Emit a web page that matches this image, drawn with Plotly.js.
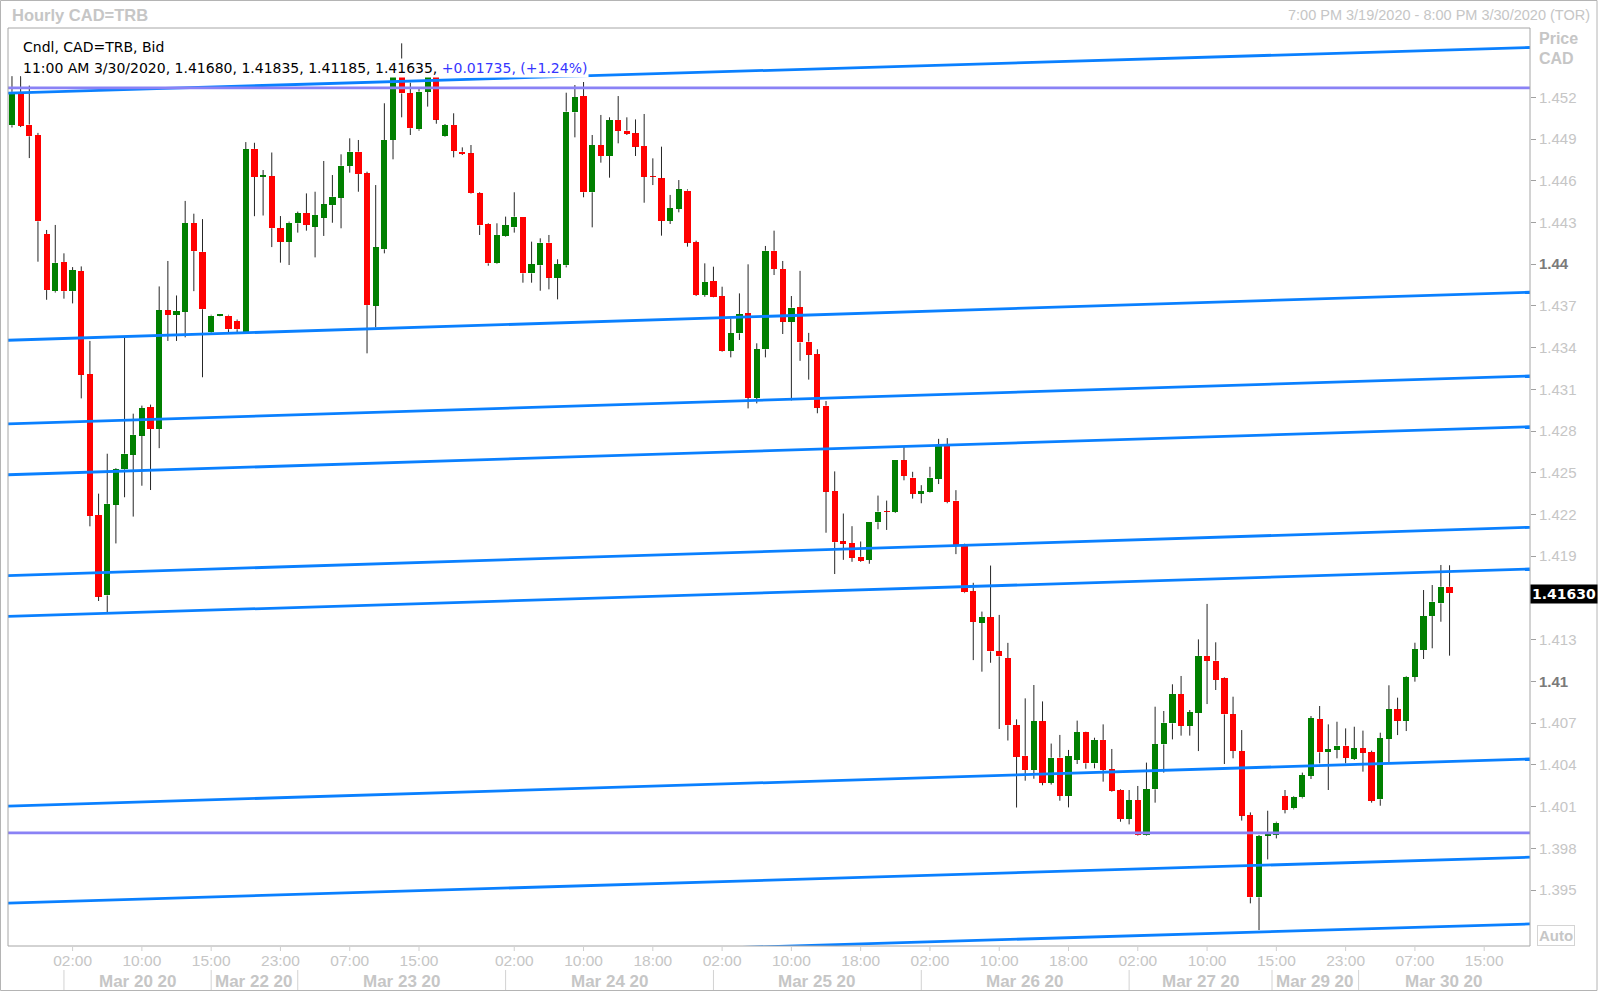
<!DOCTYPE html>
<html><head><meta charset="utf-8">
<script src="https://cdn.plot.ly/plotly-3.0.1.min.js"></script>
<style>html,body{margin:0;padding:0;background:#fff;overflow:hidden}#chart{width:1600px;height:994px}</style>
</head><body><div id="chart"></div>
<script>
// Hourly CAD=TRB candles, 7:00 PM 3/19/2020 .. 11:00 AM 3/30/2020 (bar index 0..166)
const OPEN=[1.44999,1.45234,1.45004,1.44928,1.44217,1.43806,1.44016,1.43806,1.43950,1.43210,
1.42196,1.41618,1.42271,1.42525,1.42630,1.42768,1.42970,1.42815,1.43668,1.43636,
1.43657,1.44295,1.44089,1.43511,1.43631,1.43631,1.43592,1.43513,1.44829,1.44630,
1.44633,1.44258,1.44162,1.44294,1.44366,1.44270,1.44335,1.44425,1.44478,1.44706,
1.44809,1.44653,1.43702,1.44107,1.44894,1.45400,1.45228,1.44970,1.45241,1.45380,
1.44922,1.45001,1.44809,1.44797,1.44509,1.44287,1.44006,1.44205,1.44265,1.44342,
1.43934,1.43992,1.44155,1.43903,1.43992,1.45092,1.45209,1.44517,1.44857,1.44778,
1.45037,1.44960,1.44941,1.44850,1.44629,1.44617,1.44313,1.44397,1.44529,1.44159,
1.43778,1.43879,1.43771,1.43376,1.43503,1.43647,1.43040,1.43388,1.44097,1.43965,
1.43587,1.43690,1.43443,1.43354,1.42983,1.42369,1.42006,1.41995,1.41896,1.41874,
1.42144,1.42221,1.42218,1.42590,1.42466,1.42350,1.42364,1.42455,1.42694,1.42300,
1.41984,1.41648,1.41420,1.41461,1.41216,1.41167,1.40685,1.40465,1.40363,1.40713,
1.40272,1.40452,1.40178,1.40435,1.40634,1.40411,1.40579,1.40368,1.40219,1.40010,
1.40147,1.39895,1.40224,1.40547,1.40698,1.40909,1.40682,1.40775,1.41183,1.41149,
1.41022,1.40763,1.40499,1.40039,1.39447,1.39891,1.39895,1.40176,1.40087,1.40166,
1.40320,1.40730,1.40492,1.40507,1.40538,1.40444,1.40519,1.40492,1.40152,1.40588,
1.40799,1.40717,1.41034,1.41226,1.41470,1.41561,1.41680];
const HIGH=[1.45352,1.45352,1.45284,1.44944,1.44246,1.44282,1.44078,1.43979,1.43984,1.43448,
1.42350,1.42637,1.42533,1.43474,1.42925,1.42983,1.42990,1.43840,1.44023,1.43775,
1.44455,1.44363,1.44324,1.43636,1.43636,1.43636,1.43602,1.44878,1.44873,1.44677,
1.44803,1.44346,1.44306,1.44378,1.44509,1.44521,1.44742,1.44641,1.44790,1.44905,
1.44893,1.44665,1.44569,1.45157,1.45420,1.45588,1.45305,1.45264,1.45420,1.45400,
1.45008,1.45085,1.44840,1.44857,1.44517,1.44294,1.44294,1.44342,1.44517,1.44342,
1.44162,1.44186,1.44210,1.44035,1.45233,1.45288,1.45310,1.44929,1.45073,1.45056,
1.45209,1.45056,1.45041,1.45080,1.44761,1.44845,1.44498,1.44605,1.44538,1.44169,
1.44006,1.43982,1.43838,1.43611,1.43790,1.43999,1.43431,1.44131,1.44241,1.44023,
1.43771,1.43952,1.43506,1.43388,1.43016,1.42510,1.42207,1.42116,1.42006,1.42149,
1.42336,1.42300,1.42590,1.42686,1.42507,1.42411,1.42543,1.42744,1.42749,1.42375,
1.41990,1.41709,1.41502,1.41833,1.41478,1.41277,1.40727,1.40878,1.40974,1.40856,
1.40553,1.40615,1.40507,1.40718,1.40638,1.40595,1.40691,1.40514,1.40224,1.40219,
1.40248,1.40416,1.40818,1.40787,1.40979,1.41039,1.40794,1.41302,1.41557,1.41281,
1.41029,1.40890,1.40650,1.40058,1.39895,1.40070,1.39991,1.40219,1.40176,1.40344,
1.40751,1.40823,1.40691,1.40710,1.40662,1.40674,1.40646,1.40502,1.40631,1.40972,
1.40883,1.41039,1.41278,1.41657,1.41693,1.41837,1.41835];
const LOW=[1.44983,1.44986,1.44763,1.44018,1.43744,1.43796,1.43752,1.43718,1.43035,1.42115,
1.41578,1.41487,1.41992,1.42324,1.42185,1.42407,1.42376,1.42677,1.43448,1.43448,
1.43474,1.43806,1.43187,1.43506,1.43626,1.43506,1.43506,1.43506,1.44345,1.44350,
1.44123,1.44011,1.43994,1.44227,1.44241,1.44049,1.44203,1.44298,1.44258,1.44658,
1.44521,1.43359,1.43546,1.44078,1.44754,1.45056,1.44929,1.44960,1.45133,1.45010,
1.44917,1.44768,1.44785,1.44505,1.44210,1.43989,1.44001,1.44198,1.44227,1.43867,
1.43867,1.43809,1.43819,1.43747,1.43977,1.44912,1.44481,1.44265,1.44730,1.44622,
1.44869,1.44929,1.44778,1.44442,1.44569,1.44205,1.44289,1.44373,1.44126,1.43771,
1.43766,1.43762,1.43371,1.43330,1.43455,1.42963,1.42999,1.43330,1.43922,1.43498,
1.43020,1.43305,1.43170,1.42928,1.42069,1.41772,1.41874,1.41860,1.41860,1.41846,
1.42094,1.42089,1.42212,1.42446,1.42314,1.42281,1.42358,1.42419,1.42281,1.41915,
1.41635,1.41153,1.41070,1.41134,1.40658,1.40575,1.40093,1.40286,1.40300,1.40253,
1.40258,1.40142,1.40094,1.40406,1.40372,1.40375,1.40279,1.40207,1.39991,1.39972,
1.39891,1.39891,1.40128,1.40344,1.40583,1.40610,1.40610,1.40499,1.40837,1.40938,
1.40406,1.40447,1.39999,1.39404,1.39212,1.39720,1.39871,1.40051,1.40080,1.40159,
1.40298,1.40411,1.40219,1.40447,1.40411,1.40435,1.40351,1.40128,1.40106,1.40415,
1.40614,1.40643,1.40998,1.41161,1.41238,1.41429,1.41185];
const CLOSE=[1.45239,1.44996,1.44920,1.44308,1.43814,1.44010,1.43806,1.43958,1.43205,1.42190,
1.41610,1.42277,1.42525,1.42637,1.42773,1.42964,1.42815,1.43668,1.43636,1.43663,
1.44295,1.44094,1.43676,1.43631,1.43631,1.43532,1.43532,1.44826,1.44627,1.44635,
1.44259,1.44162,1.44298,1.44366,1.44282,1.44354,1.44430,1.44485,1.44708,1.44809,
1.44648,1.43706,1.44121,1.44893,1.45400,1.45228,1.44977,1.45241,1.45380,1.45040,
1.45001,1.44814,1.44792,1.44509,1.44279,1.44006,1.44210,1.44279,1.44342,1.43934,
1.43999,1.44155,1.43903,1.44001,1.45097,1.45200,1.44517,1.44857,1.44778,1.45037,
1.44958,1.44936,1.44845,1.44629,1.44627,1.44313,1.44402,1.44538,1.44155,1.43778,
1.43872,1.43766,1.43376,1.43503,1.43639,1.43040,1.43388,1.44097,1.43965,1.43587,
1.43687,1.43437,1.43349,1.42969,1.42364,1.42001,1.41990,1.41890,1.41868,1.42149,
1.42221,1.42218,1.42590,1.42479,1.42350,1.42369,1.42466,1.42700,1.42289,1.41984,
1.41640,1.41428,1.41464,1.41216,1.41180,1.40685,1.40457,1.40363,1.40713,1.40272,
1.40451,1.40178,1.40464,1.40634,1.40411,1.40579,1.40363,1.40214,1.40010,1.40147,
1.39895,1.40224,1.40547,1.40703,1.40909,1.40682,1.40777,1.41183,1.41147,1.41010,
1.40763,1.40502,1.40035,1.39447,1.39888,1.39895,1.39984,1.40075,1.40171,1.40327,
1.40735,1.40490,1.40511,1.40538,1.40451,1.40519,1.40487,1.40142,1.40593,1.40799,
1.40717,1.41034,1.41230,1.41470,1.41573,1.41681,1.41635];

// time axis (bar index positions) and labels
const tickIndex=[7,15,23,31,39,47,58,66,74,82,90,98,106,114,122,130,138,146,154,162,170];
const tickLabels=["02:00","10:00","15:00","23:00","07:00","15:00","02:00","10:00","18:00","02:00","10:00","18:00","02:00","10:00","18:00","02:00","10:00","15:00","23:00","07:00","15:00"];
const dayLabels=["Mar 20 20","Mar 22 20","Mar 23 20","Mar 24 20","Mar 25 20","Mar 26 20","Mar 27 20","Mar 29 20","Mar 30 20"];
const dayBoundaries=[6,23,33,57,81,105,129,145.5,155.5];
const X_RANGE=[-0.46,175.29];

// price axis
const priceTicks=[1.452,1.449,1.446,1.443,1.44,1.437,1.434,1.431,1.428,1.425,1.422,1.419,1.416,1.413,1.41,1.407,1.404,1.401,1.398,1.395];
const boldTicks=[1.44,1.41];
const Y_RANGE=[1.390973,1.456983];

// channel trend lines: price at left edge and right edge of the plot
const trendStart=[1.45230,1.43453,1.42852,1.42486,1.41761,1.41467,1.40103,1.39406,1.38930];
const trendEnd  =[1.45558,1.43798,1.43196,1.42831,1.42108,1.41808,1.40442,1.39736,1.39256];
// horizontal levels
const levelLines=[1.45268,1.39911];

const lastPrice=1.41630;
const legendLine1="Cndl, CAD=TRB, Bid";
const legendTime="11:00 AM 3/30/2020";
const legendChange="+0.01735, (+1.24%)";

const idx=OPEN.map((_,i)=>i);
const UP='#008000', DOWN='#ff0000';

// wicks (upper and lower segments)
const wx=[], wy=[];
idx.forEach(i=>{
  const top=Math.max(OPEN[i],CLOSE[i]), bot=Math.min(OPEN[i],CLOSE[i]);
  if(HIGH[i]>top){wx.push(i,i,null);wy.push(top,HIGH[i],null);}
  if(LOW[i]<bot){wx.push(i,i,null);wy.push(LOW[i],bot,null);}
});
const traces=[];
traces.push({type:'scatter',mode:'lines',x:wx,y:wy,line:{color:'#262626',width:1},hoverinfo:'skip'});
traces.push({type:'bar',x:idx,
  base:idx.map(i=>Math.min(OPEN[i],CLOSE[i])),
  y:idx.map(i=>Math.max(Math.abs(CLOSE[i]-OPEN[i]),0.00009)),
  width:0.72,
  marker:{color:idx.map(i=>CLOSE[i]>=OPEN[i]?UP:DOWN),line:{width:0}},
  hoverinfo:'skip'});
trendStart.forEach((v,k)=>{
  traces.push({type:'scatter',mode:'lines',x:[X_RANGE[0],X_RANGE[1]],y:[v,trendEnd[k]],
    line:{color:'#0a80ff',width:2.8},hoverinfo:'skip'});
});
levelLines.forEach(v=>{
  traces.push({type:'scatter',mode:'lines',x:[X_RANGE[0],X_RANGE[1]],y:[v,v],
    line:{color:'#8a82f5',width:2.6},hoverinfo:'skip'});
});

const W=1600,H=994,L0=8,R0=1530,T0=28,B0=946;
const px=X=>(X-L0)/(R0-L0);
const py=Y=>(B0-Y)/(B0-T0);
const xToPaper=v=>(v-X_RANGE[0])/(X_RANGE[1]-X_RANGE[0]);

const shapes=[
  {type:'rect',xref:'paper',yref:'paper',x0:px(0.5),x1:px(1597),y0:py(990.5),y1:py(0.5),line:{color:'#b4b4b4',width:1}},
  {type:'rect',xref:'paper',yref:'paper',x0:0,x1:1,y0:0,y1:1,line:{color:'#a6a6a6',width:1}}
];
dayBoundaries.forEach(d=>{
  shapes.push({type:'line',xref:'paper',yref:'paper',x0:xToPaper(d),x1:xToPaper(d),y0:py(970),y1:py(990),line:{color:'#d2d2d2',width:1}});
});
// small time-axis tick marks under the plot frame
tickIndex.forEach(t=>{
  shapes.push({type:'line',xref:'paper',yref:'paper',x0:xToPaper(t),x1:xToPaper(t),y0:py(947),y1:py(951),line:{color:'#cfcfcf',width:1}});
});

const gray='#c6c6c6';
const annotations=[
  {xref:'paper',yref:'paper',x:px(10),y:py(15),xanchor:'left',yanchor:'middle',showarrow:false,
   text:'<b>Hourly CAD=TRB</b>',font:{family:'Liberation Sans',size:16.5,color:gray}},
  {xref:'paper',yref:'paper',x:px(1592),y:py(15),xanchor:'right',yanchor:'middle',showarrow:false,
   text:'7:00 PM 3/19/2020 - 8:00 PM 3/30/2020 (TOR)',font:{family:'Liberation Sans',size:14.5,color:gray}},
  {xref:'paper',yref:'paper',x:px(1537),y:py(38),xanchor:'left',yanchor:'middle',showarrow:false,
   text:'<b>Price</b>',font:{family:'Liberation Sans',size:16,color:gray}},
  {xref:'paper',yref:'paper',x:px(1537),y:py(59),xanchor:'left',yanchor:'middle',showarrow:false,
   text:'<b>CAD</b>',font:{family:'Liberation Sans',size:16,color:gray}},
  {xref:'paper',yref:'paper',x:px(21),y:py(47),xanchor:'left',yanchor:'middle',showarrow:false,
   text:legendLine1,font:{family:'DejaVu Sans',size:14,color:'#000'}},
  {xref:'paper',yref:'paper',x:px(21),y:py(68),xanchor:'left',yanchor:'middle',showarrow:false,bgcolor:'#ffffff',borderpad:1,
   text:legendTime+', '+[OPEN[166],HIGH[166],LOW[166],CLOSE[166]].map(v=>v.toFixed(5)).join(', ')+', <span style="color:#3535ff">'+legendChange+'</span>',
   font:{family:'DejaVu Sans',size:14,color:'#000'}},
  {xref:'paper',yref:'y',x:1,xshift:0,y:lastPrice,xanchor:'left',yanchor:'middle',showarrow:false,bgcolor:'#000',borderpad:1,
   text:'<b>'+lastPrice.toFixed(5)+'</b>',font:{family:'DejaVu Sans',size:14,color:'#fff'}},
  {xref:'paper',yref:'paper',x:px(1537),y:0,xanchor:'left',yanchor:'bottom',showarrow:false,bgcolor:'#fff',
   bordercolor:'#d4d4d4',borderwidth:1,borderpad:1,
   text:'<b>Auto</b>',font:{family:'Liberation Sans',size:15,color:gray}}
];
dayLabels.forEach((lab,k)=>{
  const a=dayBoundaries[k], b=(k+1<dayBoundaries.length)?dayBoundaries[k+1]:X_RANGE[1];
  annotations.push({xref:'x',yref:'paper',x:(a+b)/2,y:py(981),xanchor:'center',yanchor:'middle',showarrow:false,
    text:'<b>'+lab+'</b>',font:{family:'Liberation Sans',size:17,color:gray}});
});

// the 1.416 label sits under the last-price box in the reference, so it is left blank
const hiddenTicks=[1.416];
const yTickText=priceTicks.map(v=>hiddenTicks.includes(v)?'':(boldTicks.includes(v)?'<b><span style="color:#7a7a7a">'+String(v)+'</span></b>':v.toFixed(3)));

const layout={
  width:W,height:H,
  margin:{l:L0,r:W-R0,t:T0,b:H-B0,pad:0},
  paper_bgcolor:'#fff',plot_bgcolor:'#fff',
  showlegend:false,bargap:0,
  xaxis:{type:'linear',range:X_RANGE,tickmode:'array',tickvals:tickIndex,ticktext:tickLabels,
    ticks:'',ticklabelstandoff:3,
    tickfont:{family:'Liberation Sans',size:15.5,color:gray},
    showgrid:false,zeroline:false,showline:false,fixedrange:true},
  yaxis:{side:'right',range:Y_RANGE,tickmode:'array',tickvals:priceTicks,ticktext:yTickText,
    ticks:'outside',ticklen:5,tickcolor:'#a0a0a0',tickwidth:1,
    tickfont:{family:'Liberation Sans',size:15,color:gray},
    showgrid:false,zeroline:false,showline:false,fixedrange:true},
  shapes:shapes,annotations:annotations
};
Plotly.newPlot('chart',traces,layout,{staticPlot:true,displayModeBar:false});
</script></body></html>
